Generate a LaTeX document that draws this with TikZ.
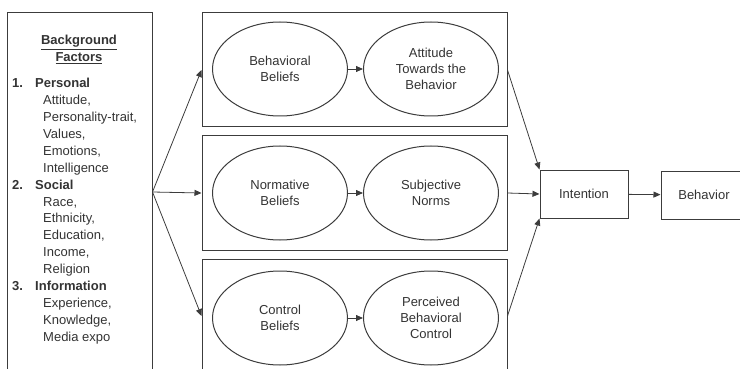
\documentclass[tikz,border=0pt]{standalone}
\usepackage{fontspec}
\setmainfont{Liberation Sans}
\usetikzlibrary{shapes.geometric,arrows.meta}
\definecolor{linegray}{HTML}{3C3C3C}
\definecolor{textgray}{HTML}{333333}
\tikzset{
	box/.style={draw=linegray, line width=1pt, shape=rectangle, inner sep=0, text=textgray},
	belief/.style={draw=linegray, line width=1pt, shape=ellipse, minimum width=135pt, minimum height=94pt, inner sep=0, align=center, text=textgray, font=\fontsize{13}{15.7}\selectfont},
	link/.style={draw=linegray, line width=0.8pt, -{Triangle[length=7pt,width=6pt]}},
	txt/.style={anchor=base west, inner sep=0, text=textgray, font=\fontsize{13}{15.6}\selectfont}
}
\begin{document}
\begin{tikzpicture}[x=1pt, y=-1pt]
	\useasboundingbox (0,0) rectangle (740,369);
	% background factors
	\node[box, minimum width=145pt, minimum height=358pt] (bg) at (79.5,192){};
	\node[txt, anchor=base] (bgtitle) at (79,44.6){\bfseries\underline{Background}};
	\node[txt, anchor=base] (bgtitle2) at (79,61.5){\bfseries\underline{Factors}};
	\foreach \k/\n/\h in {0/1./Personal, 6/2./Social, 12/3./Information}
		{
			\node[txt] (num\k) at (12,87.5+16.93*\k){\bfseries\n};
			\node[txt] (head\k) at (35,87.5+16.93*\k){\bfseries\h};
		}
	\foreach \k/\t in {1/{Attitude,}, 2/{Personality-trait,}, 3/{Values,}, 4/{Emotions,}, 5/Intelligence, 7/{Race,}, 8/{Ethnicity,}, 9/{Education,}, 10/{Income,}, 11/Religion, 13/{Experience,}, 14/{Knowledge,}, 15/Media expo}
		{
			\node[txt] (item\k) at (43,87.5+16.93*\k){\t};
		}
	% the three belief rows
	\foreach \r/\y in {att/70, norm/193, ctrl/316}
		{
			\node[box, minimum width=305pt, minimum height=114pt] (row\r) at (354.5,\y){};
		}
	\node[belief] (bbel) at (280,69){Behavioral\\Beliefs};
	\node[belief] (att) at (431,69){Attitude\\Towards the\\Behavior};
	\node[belief] (nbel) at (280,193){Normative\\Beliefs};
	\node[belief] (norm) at (431,193){Subjective\\Norms};
	\node[belief] (cbel) at (280,318){Control\\Beliefs};
	\node[belief] (ctrl) at (431,318){Perceived\\Behavioral\\Control};
	\node[box, font=\fontsize{13}{15.6}\selectfont, minimum width=88pt, minimum height=48pt] (int) at (584,194){Intention};
	\node[box, font=\fontsize{13}{15.6}\selectfont, minimum width=86pt, minimum height=48pt] (beh) at (704,195){Behavior};
	% connectors
	\foreach \r in {att, norm, ctrl}
		{
			\draw[link] (bg.east) -- (row\r.west);
		}
	\draw[link] (bbel) -- (att);
	\draw[link] (nbel) -- (norm);
	\draw[link] (cbel) -- (ctrl);
	\draw[link] (rowatt.east) -- (int.north west);
	\draw[link] (rownorm.east) -- (int.west);
	\draw[link] (rowctrl.east) -- (int.south west);
	\draw[link] (int) -- (beh);
\end{tikzpicture}
\end{document}
